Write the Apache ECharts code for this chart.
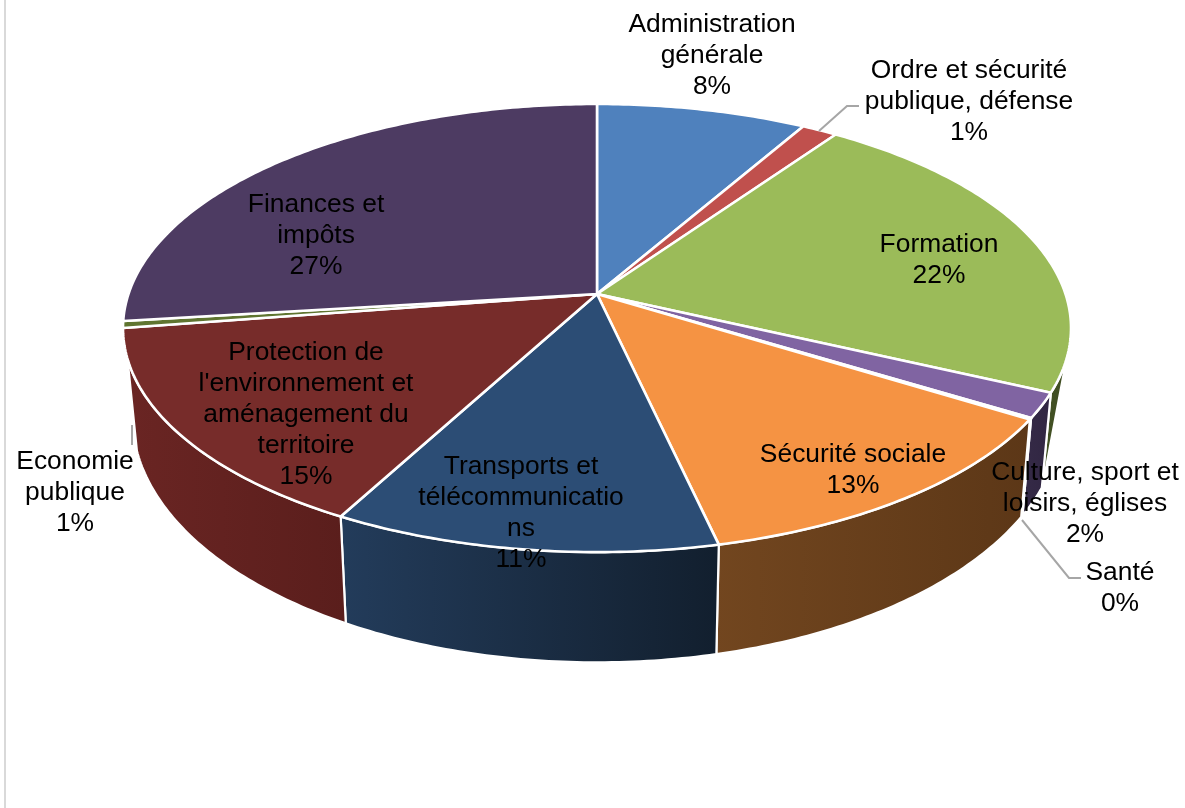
<!DOCTYPE html>
<html>
<head>
<meta charset="utf-8">
<style>html,body{margin:0;padding:0;background:#fff}#c{width:1185px;height:808px}</style>
<script src="https://cdn.jsdelivr.net/npm/echarts@6/dist/echarts.min.js"></script>
</head>
<body>
<div id="c"></div>
<script>
// ---- data ----
const categories = ["Administration\ngénérale", "Ordre et sécurité\npublique, défense", "Formation",
  "Culture, sport et\nloisirs, églises", "Santé", "Sécurité sociale",
  "Transports et\ntélécommunicatio\nns", "Protection de\nl'environnement et\naménagement du\nterritoire",
  "Economie\npublique", "Finances et\nimpôts"];
const values = [8.3, 1.4, 22.2, 1.8, 0.1, 12.6, 11.4, 14.7, 0.5, 26.9];
// ---- style ----
const topColors = ["#4f81bd", "#c0504d", "#9bbb59", "#8064a2", "#eef6f8", "#f59343", "#2c4d75", "#772c2a", "#5f7530", "#4d3b62"];
const wallFrom = ["#2a4565", "#662a28", "#435224", "#352a47", "#f4f4f4", "#72461f", "#233c5b", "#6a2523", "#3a4a1d", "#30253f"];
const wallTo = ["#2a4565", "#662a28", "#3f4d22", "#312642", "#f4f4f4", "#5c3717", "#121f2e", "#5a1e1c", "#3a4a1d", "#30253f"];
// ---- layout: projection of the tilted disc, label anchors ----
const CX = 597, CY = 294, RX = 468.5, RY = 218.9, PERSP = 0.152;
const VIS_START = 106.5, VIS_END = 253.5, BOTTOM_START = 114.7;
const labelAnchors = [[712, 56], [969, 102], [939, 260.5], [1085, 504], [1120, 588.5], [853, 470.5], [521, 513.5], [306, 415], [75, 493], [316, 236]];
const leaderLines = [[[819, 131], [847, 106], [859, 106]], [[1022, 520], [1069, 578], [1081, 578]]];
const FONT = 26.4, LINE_H = 31;

const total = values.reduce((a, b) => a + b, 0);
const spans = [];
values.reduce((acc, v) => { const e = acc + v / total * 360; spans.push([acc, e]); return e; }, 0);

function rim(deg) {
  const t = deg * Math.PI / 180, u = Math.sin(t), v = Math.cos(t), w = 1 + PERSP * v;
  return [CX + RX * u / w, CY - RY * v / w];
}
function bottom(deg) {
  const p = rim(Math.max(deg, BOTTOM_START));
  return [CX + (p[0] - CX) * 0.98, p[1] + 95 + (p[1] - 392) * 0.095];
}
function arc(a, b, fn) {
  const pts = [], n = Math.max(2, Math.ceil((b - a) / 0.75));
  for (let i = 0; i <= n; i++) pts.push(fn(a + (b - a) * i / n));
  return pts;
}
function renderTop(params) {
  const i = params.dataIndex, s = spans[i];
  return { type: 'polygon', shape: { points: [[CX, CY]].concat(arc(s[0], s[1], rim)) },
    style: { fill: topColors[i], stroke: '#fff', lineWidth: 2.6, lineJoin: 'round' } };
}
function renderWall(params) {
  const i = params.dataIndex, a = Math.max(spans[i][0], VIS_START), b = Math.min(spans[i][1], VIS_END);
  if (b <= a) return null;
  return { type: 'polygon',
    shape: { points: arc(a, b, rim).concat(arc(a, b, bottom).reverse()) },
    style: { fill: new echarts.graphic.LinearGradient(0, 0, 1, 0, [{ offset: 0, color: wallFrom[i] }, { offset: 1, color: wallTo[i] }]),
      stroke: '#fff', lineWidth: 2.2, lineJoin: 'round' } };
}
function renderLabel(params) {
  const i = params.dataIndex;
  return { type: 'text', style: { x: labelAnchors[i][0], y: labelAnchors[i][1],
    text: categories[i] + '\n' + Math.round(values[i]) + '%', fill: '#000', align: 'center', verticalAlign: 'middle',
    font: FONT + 'px "Liberation Sans"', lineHeight: LINE_H } };
}
function renderLeader(params) {
  return { type: 'polyline', shape: { points: leaderLines[params.dataIndex] }, style: { fill: 'none', stroke: '#a6a6a6', lineWidth: 2 } };
}
const chart = echarts.init(document.getElementById('c'), null, { renderer: 'canvas' });
chart.setOption({
  animation: false, backgroundColor: '#fff',
  graphic: [
    { type: 'line', shape: { x1: 5, y1: 0, x2: 5, y2: 808 }, style: { stroke: '#d9d9d9', lineWidth: 2 }, z: 0 },
    { type: 'line', shape: { x1: 132, y1: 425, x2: 132, y2: 445 }, style: { stroke: '#a6a6a6', lineWidth: 2 }, z: 0 }
  ],
  series: [
    { type: 'custom', coordinateSystem: 'none', z: 2, data: values, renderItem: renderWall, silent: true },
    { type: 'custom', coordinateSystem: 'none', z: 3, data: values, renderItem: renderTop, silent: true },
    { type: 'custom', coordinateSystem: 'none', z: 4, data: leaderLines.map((_, i) => i), renderItem: renderLeader, silent: true },
    { type: 'custom', coordinateSystem: 'none', z: 5, data: values, renderItem: renderLabel, silent: true }
  ]
});
</script>
</body>
</html>
